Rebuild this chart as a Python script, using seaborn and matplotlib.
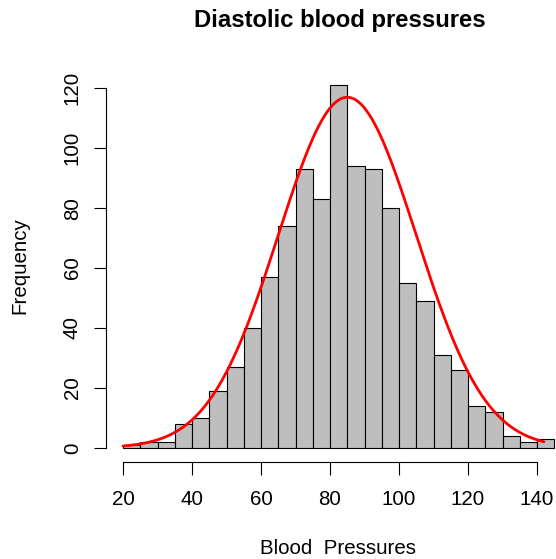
import numpy as np
import pandas as pd
import seaborn as sns
import matplotlib.pyplot as plt

sns.set_style("white")
plt.rcParams['font.family'] = ['Liberation Sans', 'DejaVu Sans']
plt.rcParams['text.color'] = 'black'
plt.rcParams['xtick.color'] = 'black'
plt.rcParams['ytick.color'] = 'black'

# histogram bins (width 5) and counts
bin_edges = list(range(20, 150, 5))
counts = [1, 2, 2, 8, 10, 19, 27, 40, 57, 74, 93, 83, 121,
          94, 93, 80, 55, 49, 31, 26, 14, 12, 4, 2, 3]

# fitted normal curve
curve_mean = 85
curve_sd = 20
curve_peak = 117
curve_from, curve_to = 20, 142

df = pd.DataFrame({"bp": np.array(bin_edges[:-1]) + 2.5, "n": counts})
xs = np.linspace(curve_from, curve_to, 300)
ys = curve_peak * np.exp(-0.5 * ((xs - curve_mean) / curve_sd) ** 2)

fig = plt.figure(figsize=(5.56, 5.59), dpi=100)
ax = fig.add_axes([106 / 556, 1 - 462.3 / 559, 450 / 556, (462.3 - 70.8) / 559])

sns.histplot(data=df, x="bp", weights="n", bins=bin_edges, color="#bebebe",
             edgecolor="black", linewidth=0.8, alpha=1, ax=ax)
sns.lineplot(x=xs, y=ys, color="red", linewidth=2, ax=ax)

ax.set_xlim(15.07, 145.5)
ax.set_ylim(-4.84, 125.84)
ax.set_xticks(range(20, 141, 20))
ax.set_yticks(range(0, 121, 20))
for s in ["top", "right"]:
    ax.spines[s].set_visible(False)
ax.spines["bottom"].set_bounds(20, 140)
ax.spines["left"].set_bounds(0, 120)
for s in ["bottom", "left"]:
    ax.spines[s].set_color("black")
    ax.spines[s].set_linewidth(0.8)
ax.tick_params(axis="both", direction="out", length=9, width=0.8,
               color="black", labelcolor="black", labelsize=14.8,
               bottom=True, left=True)
ax.tick_params(axis="x", pad=10.6)
ax.tick_params(axis="y", pad=8.3)
plt.setp(ax.get_yticklabels(), rotation=90, va="center")
ax.set_xlabel("")
ax.set_ylabel("")

fig.text(340 / 556, 1 - 21 / 559, "Diastolic blood pressures",
         ha="center", va="center", fontsize=17.2, fontweight="bold")
fig.text(338.5 / 556, 1 - 548 / 559, "Blood  Pressures",
         ha="center", va="center", fontsize=14.8)
fig.text(20 / 556, 1 - 266 / 559, "Frequency", rotation=90,
         ha="center", va="center", fontsize=14.8)

fig.savefig("out.png", dpi=100)
